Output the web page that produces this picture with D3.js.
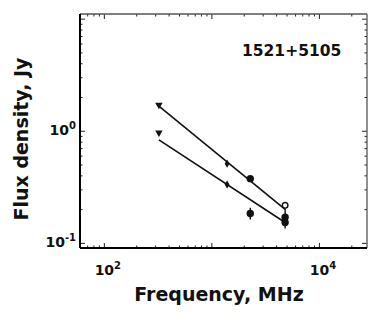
<!DOCTYPE html>
<html>
<head>
<meta charset="utf-8">
<script src="https://cdn.jsdelivr.net/npm/d3@7"></script>
<style>
  body { margin: 0; background: #fff; }
  text { font-family: "DejaVu Sans", sans-serif; font-weight: bold; fill: #111; }
</style>
</head>
<body>
<div id="chart"></div>
<script>
// flux density of 1521+5105, two fitted spectra
const freqUpper = [325, 1400, 2300, 4850];
const fluxUpper = [1.70, 0.509, 0.374, 0.216];
const markUpper = ["tri", "dia", "dot", "open"];

const freqLower = [325, 1400, 2300, 4850, 4850];
const fluxLower = [0.96, 0.331, 0.183, 0.169, 0.152];
const markLower = ["tri", "dia", "dot", "dot", "dot"];

// error bars [freq, low, high]
const errFreq = [2300, 4850];
const errLow = [0.162, 0.134];
const errHigh = [0.206, 0.21];

// fit lines, end points
const fitFreq = [325, 4850];
const fitUpper = [1.66, 0.199];
const fitLower = [0.83, 0.152];

const xMajor = [100, 1000, 10000];
const yMajor = [0.1, 1, 10];
const xLabels = [[100, "2"], [10000, "4"]];
const yLabels = [[1, "0"], [0.1, "-1"]];

(function() {
  const W = 382, H = 313;
  const pL = 80, pR = 367, pT = 14, pB = 248;

  const svg = d3.select("#chart").append("svg").attr("width", W).attr("height", H);

  const x = d3.scaleLog().domain([60, 28000]).range([pL, pR]);
  const y = d3.scaleLog().domain([0.09, 11]).range([pB, pT]);

  function minors(scale) {
    let out = [];
    let [a, b] = scale.domain();
    for (let k = Math.floor(Math.log10(a)); k <= Math.ceil(Math.log10(b)); k++) {
      for (let m = 2; m < 10; m++) {
        let v = m * Math.pow(10, k);
        if (v > a && v < b) out.push(v);
      }
    }
    return out;
  }

  // ticks, all pointing inward
  function tickGroup(axis, tr) {
    let g = svg.append("g").attr("transform", tr).call(axis);
    g.select(".domain").remove();
    g.selectAll("line").attr("stroke", "#222").attr("stroke-width", 1);
    return g;
  }
  tickGroup(d3.axisBottom(x).tickValues(xMajor).tickSize(-5).tickFormat(""), `translate(0,${pB})`);
  tickGroup(d3.axisBottom(x).tickValues(minors(x)).tickSize(-2.5).tickFormat(""), `translate(0,${pB})`);
  tickGroup(d3.axisTop(x).tickValues(xMajor).tickSize(-5).tickFormat(""), `translate(0,${pT})`);
  tickGroup(d3.axisTop(x).tickValues(minors(x)).tickSize(-2.5).tickFormat(""), `translate(0,${pT})`);
  tickGroup(d3.axisLeft(y).tickValues(yMajor).tickSize(-5).tickFormat(""), `translate(${pL},0)`);
  tickGroup(d3.axisLeft(y).tickValues(minors(y)).tickSize(-2.5).tickFormat(""), `translate(${pL},0)`);
  tickGroup(d3.axisRight(y).tickValues(yMajor).tickSize(-5).tickFormat(""), `translate(${pR},0)`);
  tickGroup(d3.axisRight(y).tickValues(minors(y)).tickSize(-2.5).tickFormat(""), `translate(${pR},0)`);

  // frame
  svg.append("line").attr("x1", pL).attr("x2", pR).attr("y1", pT).attr("y2", pT)
    .attr("stroke", "#555").attr("stroke-width", 1.3);
  svg.append("line").attr("x1", pR).attr("x2", pR).attr("y1", pT).attr("y2", pB)
    .attr("stroke", "#555").attr("stroke-width", 1.3);
  svg.append("line").attr("x1", pL).attr("x2", pR).attr("y1", pB).attr("y2", pB)
    .attr("stroke", "#000").attr("stroke-width", 2);
  svg.append("line").attr("x1", pL).attr("x2", pL).attr("y1", pT).attr("y2", pB)
    .attr("stroke", "#000").attr("stroke-width", 2);

  // tick labels 10^n
  xLabels.forEach(function(d) {
    let t = svg.append("text").attr("x", x(d[0]) + 4).attr("y", 275)
      .attr("text-anchor", "middle").attr("font-size", 14);
    t.append("tspan").text("10");
    t.append("tspan").attr("dy", -6).attr("font-size", 10).text(d[1]);
  });
  yLabels.forEach(function(d) {
    let t = svg.append("text").attr("x", 76).attr("y", y(d[0]) + 4.5)
      .attr("text-anchor", "end").attr("font-size", 14);
    t.append("tspan").text("10");
    t.append("tspan").attr("dy", -6).attr("font-size", 10).text(d[1]);
  });

  // axis titles
  svg.append("text").attr("x", 219).attr("y", 301).attr("text-anchor", "middle")
    .attr("font-size", 19).text("Frequency, MHz");
  svg.append("text").attr("transform", "translate(28,139) rotate(-90)").attr("text-anchor", "middle")
    .attr("font-size", 19).text("Flux density, Jy");
  svg.append("text").attr("x", 242).attr("y", 56).attr("font-size", 15.5).text("1521+5105");

  // fit lines
  const line = d3.line().x(d => x(d[0])).y(d => y(d[1]));
  [fitUpper, fitLower].forEach(function(f) {
    svg.append("path").attr("d", line(fitFreq.map((v, i) => [v, f[i]])))
      .attr("fill", "none").attr("stroke", "#111").attr("stroke-width", 1.6);
  });

  // error bars
  errFreq.forEach(function(v, i) {
    svg.append("line").attr("x1", x(v)).attr("x2", x(v))
      .attr("y1", y(errLow[i])).attr("y2", y(errHigh[i]))
      .attr("stroke", "#111").attr("stroke-width", 1.4);
  });

  // markers
  function drawPoints(fr, fl, mk) {
    fr.forEach(function(v, i) {
      let cx = x(v), cy = y(fl[i]);
      if (mk[i] === "tri") {
        svg.append("path").attr("d", d3.symbol(d3.symbolTriangle, 24)())
          .attr("transform", `translate(${cx},${cy}) rotate(180)`).attr("fill", "#111");
      } else if (mk[i] === "dia") {
        svg.append("path").attr("d", d3.symbol(d3.symbolDiamond, 20)())
          .attr("transform", `translate(${cx},${cy})`).attr("fill", "#111");
      } else if (mk[i] === "dot") {
        svg.append("circle").attr("cx", cx).attr("cy", cy).attr("r", 3.7).attr("fill", "#111");
      } else {
        svg.append("circle").attr("cx", cx).attr("cy", cy).attr("r", 2.8)
          .attr("fill", "#fff").attr("stroke", "#111").attr("stroke-width", 1.4);
      }
    });
  }
  drawPoints(freqUpper, fluxUpper, markUpper);
  drawPoints(freqLower, fluxLower, markLower);
})();
</script>
</body>
</html>
